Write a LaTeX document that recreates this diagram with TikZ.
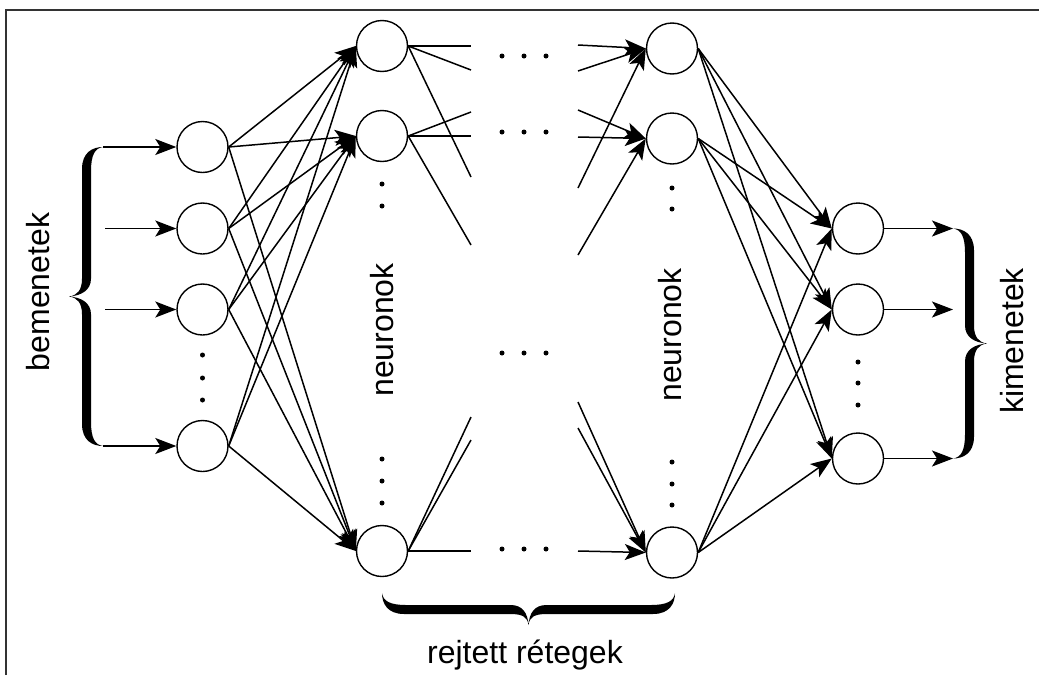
\documentclass[tikz,border=0pt]{standalone}
\usepackage{fontspec}
\setmainfont{Liberation Sans}
\usetikzlibrary{arrows.meta}
\newcommand\curlybr[2]{%
\fill (0,{-#1}) .. controls (-10,{-#1}) and (-21,{-#1+5}) .. (-21,{-#1+22})
 -- (-21,-18) .. controls (-21,-6) and ({-#2+8},-1) .. ({-#2},0)
 .. controls ({-#2+8},1) and (-21,6) .. (-21,18)
 -- (-21,{#1-22}) .. controls (-21,{#1-5}) and (-10,{#1}) .. (0,{#1})
 .. controls (-8,{#1-1}) and (-12,{#1-8}) .. (-12,{#1-24})
 -- (-12,18) .. controls (-12,6) and ({-#2+12},0.8) .. ({-#2},0)
 .. controls ({-#2+12},-0.8) and (-12,-6) .. (-12,-18)
 -- (-12,{-#1+24}) .. controls (-12,{-#1+8}) and (-8,{-#1+1}) .. (0,{-#1}) -- cycle;}
\begin{document}
\begin{tikzpicture}[x=1pt,y=-1pt,
  neuron/.style={circle, draw, line width=1.4pt, minimum size=51pt, inner sep=0pt},
  edge/.style={line width=1.5pt, -{Stealth[length=21pt,width=16pt,inset=5pt]}},
  partial/.style={line width=1.5pt},
  lbl/.style={font=\fontsize{32}{38}\selectfont, inner sep=0pt},
  dotmark/.style={fill=black}]
\useasboundingbox (0,0) rectangle (1039,675);
\fill[white] (0,0) rectangle (1039,675);
% frame
\draw[line width=1.5pt, black!80] (6,675) -- (6,10) -- (1039,10);

% neurons
\node[neuron] (i1) at (202.5,147) {};
\node[neuron] (i2) at (202.5,228.5) {};
\node[neuron] (i3) at (202.5,309.5) {};
\node[neuron] (i4) at (202.5,446) {};
\node[neuron] (h1a) at (382,46) {};
\node[neuron] (h1b) at (382,136) {};
\node[neuron] (h1c) at (382,551) {};
\node[neuron] (h2a) at (672,48.5) {};
\node[neuron] (h2b) at (672,138.5) {};
\node[neuron] (h2c) at (672,552.5) {};
\node[neuron] (o1) at (858,228.5) {};
\node[neuron] (o2) at (858,309.5) {};
\node[neuron] (o3) at (858,458.5) {};

% full connections
\foreach \s in {i1,i2,i3,i4} \foreach \t in {h1a,h1b,h1c} \draw[edge] (\s.east) -- (\t.west);
\foreach \s in {h2a,h2b,h2c} \foreach \t in {o1,o2,o3} \draw[edge] (\s.east) -- (\t.west);

% partial connections leaving hidden layer 1
\coordinate (pa1) at (471,46);  \coordinate (pa2) at (471,70);  \coordinate (pa3) at (471,177);
\coordinate (pb1) at (471,112); \coordinate (pb2) at (471,136); \coordinate (pb3) at (471,245);
\coordinate (pc1) at (471,417); \coordinate (pc2) at (471,440); \coordinate (pc3) at (471,551);
\foreach \c in {pa1,pa2,pa3} \draw[partial] (h1a.east) -- (\c);
\foreach \c in {pb1,pb2,pb3} \draw[partial] (h1b.east) -- (\c);
\foreach \c in {pc1,pc2,pc3} \draw[partial] (h1c.east) -- (\c);
% partial connections entering hidden layer 2
\coordinate (qa1) at (578,45);  \coordinate (qa2) at (578,71);  \coordinate (qa3) at (578,188);
\coordinate (qb1) at (578,110); \coordinate (qb2) at (578,137); \coordinate (qb3) at (578,255);
\coordinate (qc1) at (578,402); \coordinate (qc2) at (578,428); \coordinate (qc3) at (578,551);
\foreach \c in {qa1,qa2,qa3} \draw[edge] (\c) -- (h2a.west);
\foreach \c in {qb1,qb2,qb3} \draw[edge] (\c) -- (h2b.west);
\foreach \c in {qc1,qc2,qc3} \draw[edge] (\c) -- (h2c.west);

% inputs
\coordinate (in1) at (103,147);
\coordinate (in2) at (105,228.5);
\coordinate (in3) at (105,309.5);
\coordinate (in4) at (103,446);
\draw[edge] (in1) -- (i1.west);
\draw[edge] (in2) -- (i2.west);
\draw[edge] (in3) -- (i3.west);
\draw[edge] (in4) -- (i4.west);
% outputs
\coordinate (out1) at (953,228.5);
\coordinate (out2) at (953,309.5);
\coordinate (out3) at (953,458.5);
\draw[edge] (o1.east) -- (out1);
\draw[edge] (o2.east) -- (out2);
\draw[edge] (o3.east) -- (out3);

% braces
\begin{scope}[shift={(103,296.5)}] \curlybr{149.5}{34} \end{scope}
\begin{scope}[shift={(953,343.5)}, rotate=180] \curlybr{115}{34} \end{scope}
\begin{scope}[shift={(528.5,593)}, rotate=90] \curlybr{146.5}{32} \end{scope}

% vertical dots
\foreach \y in {355,378,400} \fill[dotmark] (202.5,\y) circle (2.5);
\foreach \y in {184,206,459,481,503} \fill[dotmark] (382,\y) circle (2.5);
\foreach \y in {188,209,462,484,505} \fill[dotmark] (672,\y) circle (2.5);
\foreach \y in {362,383,405} \fill[dotmark] (858,\y) circle (2.5);
% horizontal dots
\foreach \y in {56,132,353,549} \foreach \x in {502,524,546} \fill[dotmark] (\x,\y) circle (2.5);

% labels
\node[lbl, rotate=90] (tb) at (38,292) {bemenetek};
\node[lbl, rotate=90] (tn1) at (382,330) {neuronok};
\node[lbl, rotate=90] (tn2) at (670,335) {neuronok};
\node[lbl, rotate=90] (tk) at (1012,341) {kimenetek};
\node[lbl, anchor=base] (tr) at (525,663) {rejtett rétegek};
\end{tikzpicture}
\end{document}
